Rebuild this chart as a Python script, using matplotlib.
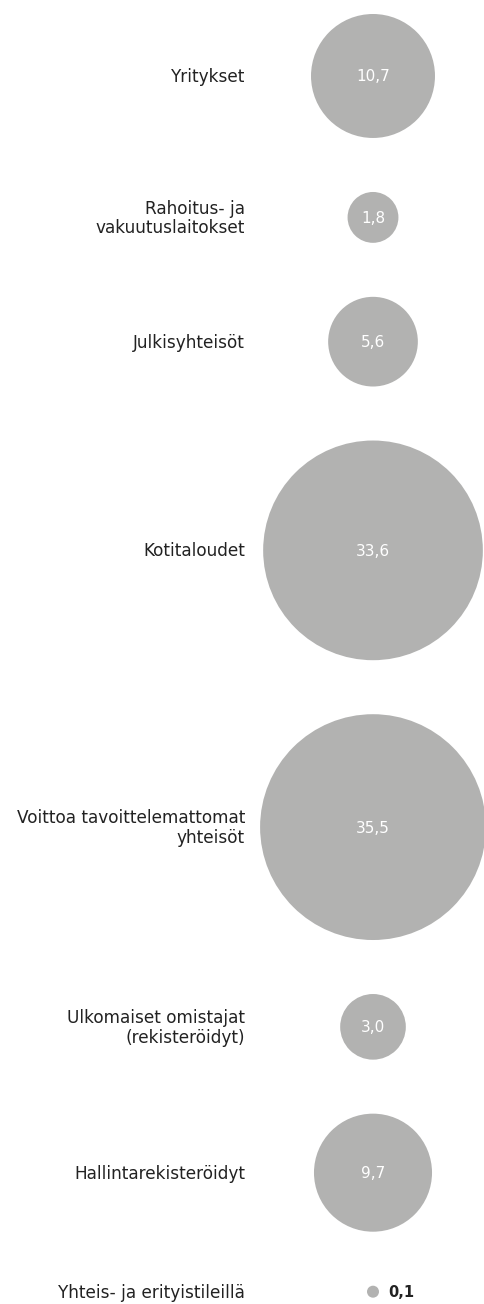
import numpy as np
import matplotlib
matplotlib.use("Agg")
import matplotlib.pyplot as plt
from matplotlib.patches import Circle

categories = [
    "Yritykset",
    "Rahoitus- ja\nvakuutuslaitokset",
    "Julkisyhteisöt",
    "Kotitaloudet",
    "Voittoa tavoittelemattomat\nyhteisöt",
    "Ulkomaiset omistajat\n(rekisteröidyt)",
    "Hallintarekisteröidyt",
    "Yhteis- ja erityistileillä",
]
values = [10.7, 1.8, 5.6, 33.6, 35.5, 3.0, 9.7, 0.1]
value_labels = ["10,7", "1,8", "5,6", "33,6", "35,5", "3,0", "9,7", "0,1"]

W, H = 484, 1304
fig = plt.figure(figsize=(W / 100, H / 100), dpi=100)
ax = fig.add_axes([0, 0, 1, 1])
ax.set_xlim(0, W)
ax.set_ylim(H, 0)
ax.set_aspect("equal")
ax.axis("off")

k = 18.95        # radius scale (area proportional to value)
gap = 54
top = 14
cx = 373
label_x = 245
bubble_color = "#b2b2b1"
text_color = "#222222"
font = "DejaVu Sans"

y = top
for cat, v, lab in zip(categories, values, value_labels):
    r = k * np.sqrt(v)
    cy = y + r
    ax.add_patch(Circle((cx, cy), r, facecolor=bubble_color, edgecolor="none"))
    if r > 15:
        ax.text(cx, cy + 1, lab, ha="center", va="center", color="white",
                fontsize=11, family=font)
    else:
        ax.text(cx + r + 9, cy + 1, lab, ha="left", va="center", color=text_color,
                fontsize=10.5, fontweight="bold", family=font)
    ax.text(label_x, cy + 1, cat, ha="right", va="center", color=text_color,
            fontsize=12.2, family=font, linespacing=1.1, multialignment="right")
    y = cy + r + gap

fig.savefig("out.png", dpi=100, facecolor="white")
